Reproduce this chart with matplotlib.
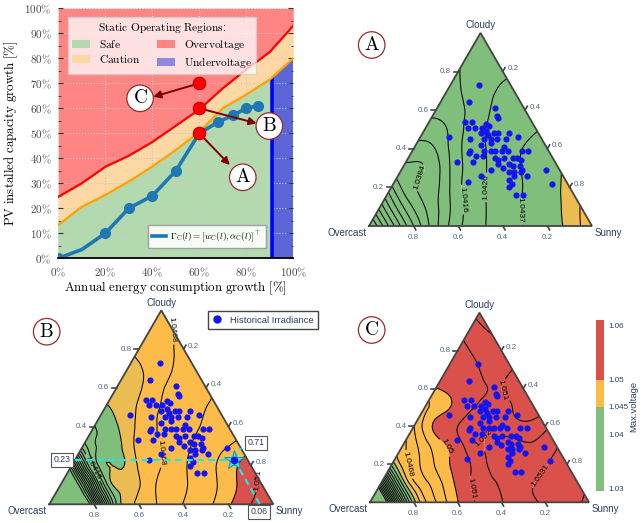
import numpy as np
import matplotlib
matplotlib.use("Agg")
import matplotlib.pyplot as plt
import matplotlib.tri as mtri
from matplotlib.patches import Patch, Polygon
from matplotlib.lines import Line2D
from matplotlib.colors import to_rgb

plt.rcParams["mathtext.fontset"] = "cm"
plt.rcParams["font.family"] = ["Liberation Sans", "DejaVu Sans"]

W, H = 641, 523
fig = plt.figure(figsize=(W / 100, H / 100), dpi=100)

# ---------------- static operating regions (growth in %) ----------------
growth = [0, 10, 20, 30, 40, 50, 60, 70, 80, 90, 100]
over_edge = [24.6, 30, 36.6, 41, 46.5, 53, 59.5, 68, 75.5, 82.5, 93]
caution_edge = [13.3, 20.6, 25.3, 30.7, 36.7, 43.3, 50.5, 60, 65.5, 71.5, 80]
under_start = 91

gamma_x = [0, 10, 20, 30, 40, 50, 60, 68, 74.5, 80, 85]
gamma_y = [0, 3.5, 10, 20, 25, 35, 50, 54.5, 57.3, 60, 61]
gamma_marks = [0, 2, 3, 4, 5, 6, 7, 8, 9, 10]

cases = ["A", "B", "C"]
case_x = [60, 60, 60]
case_y = [50, 60, 70]
tip_x = [73, 84.4, 40.4]
tip_y = [37.3, 54, 64.6]
tag_x = [78.5, 89.8, 34.8]
tag_y = [32.4, 52.9, 64]

# ---------------- irradiance mix & max voltage ----------------
# historical days as (cloudy, sunny) shares, overcast = 1 - cloudy - sunny
irr_cloudy = [0.73, 0.64, 0.61, 0.57, 0.56, 0.54, 0.54, 0.53, 0.52, 0.51, 0.51, 0.51,
              0.49, 0.48, 0.48, 0.48, 0.46, 0.45, 0.45, 0.45, 0.45, 0.48, 0.45, 0.46,
              0.39, 0.39, 0.39, 0.39, 0.39, 0.41, 0.39, 0.39, 0.39, 0.33, 0.33, 0.36,
              0.35, 0.34, 0.35, 0.35, 0.35, 0.34, 0.32, 0.30, 0.32, 0.31, 0.31, 0.29,
              0.28, 0.28, 0.28, 0.26, 0.26, 0.24, 0.29, 0.26, 0.23, 0.22, 0.20, 0.16,
              0.16, 0.22, 0.47, 0.43, 0.36, 0.42, 0.38, 0.29]
irr_sunny = [0.13, 0.13, 0.26, 0.29, 0.30, 0.16, 0.19, 0.26, 0.28, 0.19, 0.22, 0.25,
             0.28, 0.26, 0.32, 0.34, 0.13, 0.29, 0.32, 0.35, 0.39, 0.39, 0.23, 0.44,
             0.26, 0.32, 0.35, 0.37, 0.40, 0.40, 0.43, 0.49, 0.52, 0.23, 0.30, 0.30,
             0.39, 0.41, 0.43, 0.47, 0.49, 0.51, 0.42, 0.45, 0.47, 0.49, 0.52, 0.54,
             0.49, 0.51, 0.54, 0.58, 0.52, 0.51, 0.65, 0.37, 0.33, 0.53, 0.53, 0.58,
             0.61, 0.71, 0.30, 0.33, 0.33, 0.29, 0.26, 0.40]

# max voltage sampled every 0.1 of cloudy share (rows) and sunny share (columns)
vmax_A = [
    [1.0285, 1.0326, 1.0363, 1.0392, 1.0413, 1.0424, 1.0432, 1.0437, 1.0443, 1.0450, 1.0468],
    [1.0326, 1.0362, 1.0384, 1.0402, 1.0419, 1.0428, 1.0435, 1.0440, 1.0446, 1.0458],
    [1.0361, 1.0383, 1.0392, 1.0413, 1.0424, 1.0432, 1.0437, 1.0443, 1.0450],
    [1.0382, 1.0384, 1.0402, 1.0419, 1.0428, 1.0435, 1.0440, 1.0446],
    [1.0390, 1.0395, 1.0413, 1.0424, 1.0432, 1.0437, 1.0441],
    [1.0400, 1.0405, 1.0419, 1.0428, 1.0433, 1.0436],
    [1.0408, 1.0413, 1.0422, 1.0430, 1.0432],
    [1.0412, 1.0418, 1.0425, 1.0428],
    [1.0415, 1.0421, 1.0425],
    [1.0418, 1.0422],
    [1.0420],
]
vmax_B = [
    [1.0220, 1.0262, 1.0318, 1.0437, 1.0459, 1.0470, 1.0479, 1.0486, 1.0498, 1.0510, 1.0520],
    [1.0262, 1.0318, 1.0430, 1.0452, 1.0465, 1.0473, 1.0481, 1.0489, 1.0501, 1.0512],
    [1.0318, 1.0426, 1.0446, 1.0459, 1.0468, 1.0477, 1.0485, 1.0495, 1.0506],
    [1.0420, 1.0440, 1.0452, 1.0466, 1.0471, 1.0480, 1.0486, 1.0492],
    [1.0436, 1.0446, 1.0460, 1.0469, 1.0474, 1.0480, 1.0485],
    [1.0446, 1.0453, 1.0465, 1.0470, 1.0476, 1.0480],
    [1.0450, 1.0456, 1.0467, 1.0472, 1.0477],
    [1.0455, 1.0460, 1.0468, 1.0474],
    [1.0459, 1.0465, 1.0470],
    [1.0463, 1.0468],
    [1.0468],
]
vmax_C = [
    [1.0200, 1.0330, 1.0442, 1.0478, 1.0499, 1.0512, 1.0520, 1.0527, 1.0532, 1.0536, 1.0545],
    [1.0330, 1.0440, 1.0476, 1.0493, 1.0509, 1.0518, 1.0525, 1.0531, 1.0534, 1.0538],
    [1.0440, 1.0474, 1.0490, 1.0504, 1.0515, 1.0528, 1.0524, 1.0530, 1.0535],
    [1.0465, 1.0485, 1.0500, 1.0513, 1.0523, 1.0525, 1.0522, 1.0530],
    [1.0478, 1.0502, 1.0510, 1.0518, 1.0515, 1.0512, 1.0518],
    [1.0486, 1.0498, 1.0508, 1.0512, 1.0510, 1.0506],
    [1.0499, 1.0504, 1.0509, 1.0510, 1.0506],
    [1.0503, 1.0507, 1.0512, 1.0510],
    [1.0506, 1.0513, 1.0516],
    [1.0514, 1.0521],
    [1.0524],
]

# contour labels: (cloudy, sunny) where each label sits
labels_A = [(0.24, 0.12), (0.135, 0.34), (0.20, 0.43), (0.083, 0.72)]
labels_B = [(0.90, 0.04), (0.27, 0.39), (0.19, 0.10), (0.125, 0.85)]
labels_C = [(0.20, 0.075), (0.31, 0.22), (0.59, 0.31), (0.07, 0.41), (0.35, 0.34), (0.14, 0.71)]

# operating point highlighted in scenario B
star_cloudy, star_sunny, star_overcast = 0.23, 0.71, 0.06

vlim_safe, vlim_caution = 1.045, 1.05
cbar_ticks = [1.03, 1.04, 1.045, 1.05, 1.06]

col_green, col_orange, col_red = "#80bf7b", "#fdbc4a", "#da514c"
txt_col, tick_col = "#2a3f5f", "#506784"

# ======================================================================
ax1 = fig.add_axes([58.3 / W, 1 - 258.3 / H, 235 / W, 250 / H])
ax1.set_xlim(0, 100)
ax1.set_ylim(0, 100)
c_safe, c_caution, c_over, c_under = "#b3d9af", "#fed8a4", "#ff8585", "#5b66d7"

ax1.fill_between(growth, over_edge, 100, color=c_over, lw=0, zorder=1)
ax1.fill_between(growth, caution_edge, over_edge, color=c_caution, lw=0, zorder=1)
safe_poly = Polygon(list(zip(growth, caution_edge)) + [(100, 0), (0, 0)],
                    closed=True, fc=c_safe, lw=0, zorder=1)
ax1.add_patch(safe_poly)
under = ax1.axvspan(under_start, 100, color=c_under, lw=0, zorder=1.1)
under.set_clip_path(safe_poly)
uline = ax1.axvline(under_start, color="#0000ff", lw=2.6, zorder=3)
uline.set_clip_path(safe_poly)

ax1.plot(growth, over_edge, color="#ff0000", lw=1.6, zorder=3)
ax1.plot(growth, caution_edge, color="#ffa200", lw=1.6, zorder=3)
ax1.plot(gamma_x, gamma_y, color="#1f77b4", lw=2.6, marker="o", ms=7,
         markevery=gamma_marks, zorder=4)

for k, name in enumerate(cases):
    ax1.annotate("", xy=(tip_x[k], tip_y[k]), xytext=(case_x[k], case_y[k]),
                 arrowprops=dict(arrowstyle="-|>", color="#800000", lw=1.4,
                                 mutation_scale=11, shrinkA=0, shrinkB=0), zorder=5)
    ax1.text(tag_x[k], tag_y[k], r"$\mathrm{%s}$" % name, fontsize=14,
             ha="center", va="center", zorder=6,
             bbox=dict(boxstyle="circle,pad=0.22", fc="white", ec="#9b2a2a", lw=0.9))
ax1.plot(case_x, case_y, "o", ms=9, mfc="#ff0000", mec="#c00000", mew=0.8, zorder=6)

ax1.set_xticks(range(0, 101, 20))
ax1.set_xticklabels([r"$%d\%%$" % v for v in range(0, 101, 20)])
ax1.set_yticks(range(0, 101, 10))
ax1.set_yticklabels([r"$%d\%%$" % v for v in range(0, 101, 10)])
ax1.set_yticks(range(5, 100, 10), minor=True)
ax1.tick_params(axis="both", labelsize=8, labelcolor="#444444")
ax1.tick_params(axis="y", which="both", direction="in", left=True, right=True, color="#333333")
ax1.tick_params(axis="y", which="major", length=3.5, pad=5)
ax1.tick_params(axis="y", which="minor", length=1.8)
ax1.tick_params(axis="x", bottom=False, pad=1.5)
ax1.grid(True, ls=":", color="#c8c8c8", lw=0.8)
ax1.set_axisbelow(False)
for side in ["left", "top", "right"]:
    ax1.spines[side].set_visible(False)
ax1.spines["bottom"].set_linewidth(1.3)
ax1.spines["bottom"].set_zorder(6)
ax1.set_xlabel(r"$\mathrm{Annual\ energy\ consumption\ growth\ [\%]}$", fontsize=9.3, labelpad=1)
ax1.set_ylabel(r"$\mathrm{PV\ installed\ capacity\ growth\ [\%]}$", fontsize=9.3, labelpad=3)

region_handles = [Patch(fc=c_safe, label=r"$\mathrm{Safe}$"),
                  Patch(fc=c_caution, label=r"$\mathrm{Caution}$"),
                  Patch(fc=c_over, label=r"$\mathrm{Overvoltage}$"),
                  Patch(fc=c_under, alpha=0.7, label=r"$\mathrm{Undervoltage}$")]
leg1 = ax1.legend(handles=region_handles, ncol=2,
                  title=r"$\mathrm{Static\ Operating\ Regions}$:",
                  loc="upper left", bbox_to_anchor=(68 / W, 1 - 17 / H),
                  bbox_transform=fig.transFigure, fontsize=8.2, title_fontsize=8.2,
                  fancybox=False, framealpha=0.75, edgecolor="#d0d0d0",
                  borderaxespad=0, handlelength=1.6, columnspacing=1.4,
                  borderpad=0.35, labelspacing=0.25)
leg1.set_zorder(7)
ax1.add_artist(leg1)
leg2 = ax1.legend(handles=[Line2D([], [], color="#1f77b4", lw=2.6,
                                  label=r"$\Gamma_{\mathrm{C}}(l) = [w_{\mathrm{C}}(l), \alpha_{\mathrm{C}}(l)]^{\top}$")],
                  loc="upper left", bbox_to_anchor=(148 / W, 1 - 225 / H),
                  bbox_transform=fig.transFigure, fontsize=6.6, fancybox=False,
                  framealpha=0.9, edgecolor="#999999", borderaxespad=0,
                  handlelength=1.5, handletextpad=0.5, borderpad=0.45)
leg2.set_zorder(7)

# ======================================================================
SQ3 = np.sqrt(3) / 2
levels = 1.0384 + 0.00105 * np.arange(-8, 17)


def tern_xy(cloudy, sunny):
    cloudy = np.asarray(cloudy, float)
    sunny = np.asarray(sunny, float)
    return sunny + cloudy / 2, cloudy * SQ3


def tern_axes(box, x0, y0, base):
    bx0, by0, bx1, by1 = box
    ax = fig.add_axes([bx0 / W, 1 - by1 / H, (bx1 - bx0) / W, (by1 - by0) / H])
    ax.set_xlim((bx0 - x0) / base, (bx1 - x0) / base)
    ax.set_ylim((y0 - by1) / base, (y0 - by0) / base)
    ax.axis("off")
    return ax


def band_color(lo, hi):
    g, o, r = to_rgb(col_green), to_rgb(col_orange), to_rgb(col_red)
    mid = (lo + hi) / 2
    if lo < vlim_safe < hi:
        return tuple(0.15 * a + 0.85 * b for a, b in zip(g, o))
    if mid < vlim_safe:
        return g
    if mid < vlim_caution:
        return o
    return r


def fmt_level(v):
    return f"{round(v + 1e-9, 4):.4f}".rstrip("0")


def draw_ternary(ax, field, label_at):
    ca, su, zz = [], [], []
    for i, row in enumerate(field):
        for j, v in enumerate(row):
            ca.append(i / 10)
            su.append(j / 10)
            zz.append(v)
    x, y = tern_xy(ca, su)
    tri = mtri.Triangulation(x, y)
    tri_f, z_f = mtri.UniformTriRefiner(tri).refine_field(np.array(zz), subdiv=3)
    fill_lv = np.concatenate([[0.9], levels, [1.2]])
    cols = [band_color(fill_lv[k], fill_lv[k + 1]) for k in range(len(fill_lv) - 1)]
    ax.tricontourf(tri_f, z_f, levels=fill_lv, colors=cols, antialiased=True)
    cs = ax.tricontour(tri_f, z_f, levels=levels, colors="black", linewidths=0.75)
    pos = [tuple(np.ravel(tern_xy(a, c))) for a, c in label_at]
    ax.clabel(cs, manual=pos, inline=True, fontsize=6, fmt=fmt_level, inline_spacing=2)

    ax.plot([0, 1, 0.5, 0], [0, 0, SQ3, 0], color="#444444", lw=1.3, zorder=6,
            solid_joinstyle="miter")
    tl = 0.02
    for v in [0.2, 0.4, 0.6, 0.8]:
        lbl = f"{v:.1f}"
        # cloudy axis on the left edge
        px, py = v / 2, v * SQ3
        ax.plot([px - tl, px], [py, py], color="#444444", lw=1.2, zorder=6)
        ax.text(px - tl - 0.012, py, lbl, fontsize=5.8, color=tick_col, ha="right", va="center")
        # overcast axis on the bottom edge
        px, py = 1 - v, 0
        ax.plot([px, px + 0.5 * tl], [py, py - SQ3 * tl], color="#444444", lw=1.2, zorder=6)
        ax.text(px, -0.035, lbl, fontsize=5.8, color=tick_col, ha="center", va="top")
        # sunny axis on the right edge
        px, py = tern_xy(1 - v, v)
        ax.plot([px, px + 0.5 * tl], [py, py + SQ3 * tl], color="#444444", lw=1.2, zorder=6)
        ax.text(px + 0.5 * tl + 0.01, py + SQ3 * tl - 0.004, lbl, fontsize=5.8,
                color=tick_col, ha="left", va="center")
    ax.text(0.5, SQ3 + 0.012, "Cloudy", fontsize=7, color=txt_col, ha="center", va="bottom")
    ax.text(-0.01, -0.03, "Overcast", fontsize=7, color=txt_col, ha="right", va="center")
    ax.text(1.01, -0.03, "Sunny", fontsize=7, color=txt_col, ha="left", va="center")

    hx, hy = tern_xy(irr_cloudy, irr_sunny)
    ax.scatter(hx, hy, s=20, color="#1414f0", lw=0, zorder=7)


def circle_tag(px, py, name):
    fig.text(px / W, 1 - py / H, r"$\mathrm{%s}$" % name, fontsize=14,
             ha="center", va="center",
             bbox=dict(boxstyle="circle,pad=0.22", fc="white", ec="#9b2a2a", lw=0.9))


axA = tern_axes((320, 0, 641, 262), 369, 226, 223)
draw_ternary(axA, vmax_A, labels_A)
circle_tag(371.7, 45, "A")

axB = tern_axes((0, 262, 320, 523), 49.3, 504.3, 224)
draw_ternary(axB, vmax_B, labels_B)
circle_tag(46.7, 331.7, "B")

# highlighted operating point with its three shares
sx, sy = tern_xy(star_cloudy, star_sunny)
lx, ly = tern_xy(star_cloudy, 0)
rx, ry = tern_xy(1 - star_sunny, star_sunny)
bx, by = tern_xy(0, 1 - star_overcast)
dash = dict(color="#22e5e5", lw=1.6, ls=(0, (3, 2)), zorder=8)
axB.plot([lx, sx], [ly, sy], **dash)
axB.plot([sx, rx], [sy, ry], **dash)
axB.plot([sx, bx], [sy, by], **dash)
axB.plot([sx], [sy], marker="*", ms=15, mfc="#35f0f0", mec="#159aa8", mew=0.8, zorder=9)
axB.plot([sx], [sy], "o", ms=4.5, color="#1414f0", zorder=10)
box = dict(boxstyle="square,pad=0.3", fc="white", ec="#555555", lw=0.8)
axB.text(0.093, ly, f"{star_cloudy:.2f}", fontsize=6.3, color=txt_col, ha="right", va="center", bbox=box, zorder=10)
axB.text(0.923, 0.275, f"{star_sunny:.2f}", fontsize=6.3, color=txt_col, ha="center", va="center", bbox=box, zorder=10)
axB.text(0.937, -0.034, f"{star_overcast:.2f}", fontsize=6.3, color=txt_col, ha="center", va="center", bbox=box, zorder=10)
axB.legend(handles=[Line2D([], [], ls="none", marker="o", ms=5, color="#1414f0",
                           label="Historical Irradiance")],
           loc="upper left", bbox_to_anchor=(208 / W, 1 - 311 / H),
           bbox_transform=fig.transFigure, fontsize=6.8, fancybox=False,
           framealpha=1, edgecolor="#444444", borderaxespad=0, handlelength=1.0,
           borderpad=0.5, labelcolor=txt_col)

axC = tern_axes((320, 262, 641, 523), 370, 502.3, 219)
draw_ternary(axC, vmax_C, labels_C)
circle_tag(371.7, 330, "C")

# discrete colour bar for the voltage classes
cax = fig.add_axes([596 / W, 1 - 490.7 / H, 8 / W, 170.7 / H])
lo_v, hi_v = 1.02963, 1.06092
cax.set_ylim(lo_v, hi_v)
cax.set_xlim(0, 1)
cax.axhspan(lo_v, vlim_safe, color=col_green, lw=0)
cax.axhspan(vlim_safe, vlim_caution, color=col_orange, lw=0)
cax.axhspan(vlim_caution, hi_v, color=col_red, lw=0)
cax.set_xticks([])
cax.yaxis.tick_right()
cax.set_yticks(cbar_ticks)
cax.set_yticklabels([f"{v:g}" for v in cbar_ticks])
cax.tick_params(axis="y", length=0, pad=3, labelsize=5.8, labelcolor=txt_col)
for s in cax.spines.values():
    s.set_visible(False)
fig.text(634 / W, 1 - 406 / H, "Max.voltage", rotation=90, fontsize=6.8,
         color=txt_col, ha="center", va="center")

fig.savefig("out.png", dpi=100)
